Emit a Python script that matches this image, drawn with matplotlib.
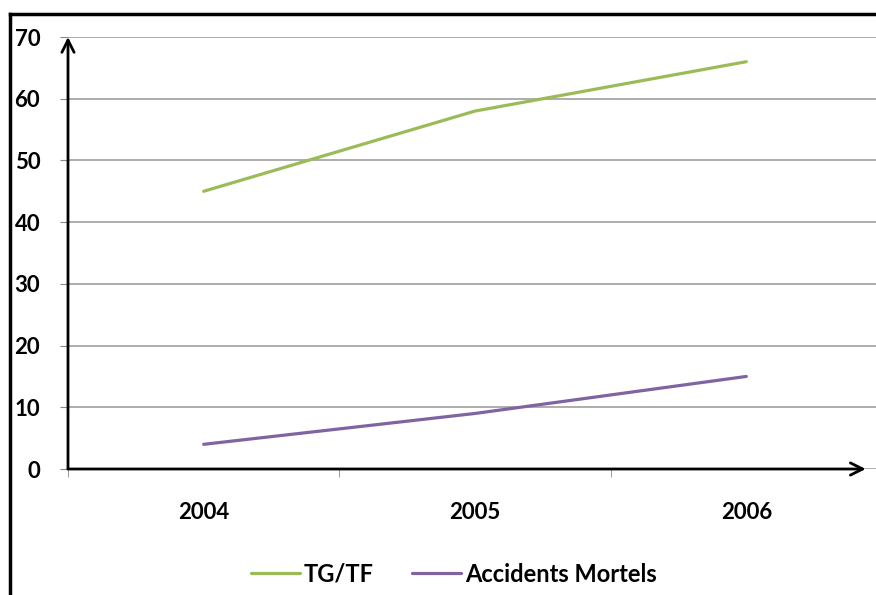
import matplotlib.pyplot as plt
from matplotlib.lines import Line2D

# data
years = ["2004", "2005", "2006"]
tg_tf = [45, 58, 66]
accidents = [4, 9, 15]

plt.rcParams['font.family'] = ['Lato', 'DejaVu Sans']
plt.rcParams['font.weight'] = 'bold'

fig = plt.figure(figsize=(8.76, 5.95), dpi=100)
ax = fig.add_axes([68 / 876, 1 - 469 / 595, 814 / 876, (469 - 37) / 595])

x = list(range(len(years)))
ax.plot(x, tg_tf, color='#9BBB59', lw=2.3, label='TG/TF', solid_capstyle='round')
ax.plot(x, accidents, color='#8064A2', lw=2.3, label='Accidents Mortels', solid_capstyle='round')

ax.set_xlim(-0.5, 2.5)
ax.set_ylim(0, 70)
ax.set_yticks(range(0, 71, 10))
ax.set_xticks(x)
ax.set_xticklabels(years)
ax.set_xticks([-0.5, 0.5, 1.5], minor=True)
ax.tick_params(axis='x', which='major', length=0, pad=24, labelsize=16)
ax.tick_params(axis='x', which='minor', length=6, color='#888888', direction='out')
ax.tick_params(axis='y', length=6, color='#888888', pad=14, labelsize=16)
for lbl in ax.get_xticklabels() + ax.get_yticklabels():
    lbl.set_fontweight('bold')

ax.grid(axis='y', color='#A0A0A0', lw=1.2)
ax.set_axisbelow(True)
for s in ax.spines.values():
    s.set_visible(False)

# axes drawn as arrows
ax.annotate('', xy=(0, 1.0), xytext=(0, 0), xycoords='axes fraction',
            arrowprops=dict(arrowstyle='->', lw=2, color='black', mutation_scale=22, shrinkA=0, shrinkB=0))
ax.annotate('', xy=(0.98, 0), xytext=(0, 0), xycoords='axes fraction',
            arrowprops=dict(arrowstyle='->', lw=2, color='black', mutation_scale=22, shrinkA=0, shrinkB=0))

# outer frame (left and top only visible)
fy = 1 - 14 / 595
fx = 10 / 876
fig.add_artist(Line2D([fx, fx], [0, fy], color='black', lw=2.5, transform=fig.transFigure))
fig.add_artist(Line2D([fx, 1], [fy, fy], color='black', lw=2.5, transform=fig.transFigure))

fig.legend(loc='center', bbox_to_anchor=(0.518, 0.035), ncol=2, frameon=False,
           handlelength=2.1, handletextpad=0.15, columnspacing=1.6,
           prop={'weight': 'bold', 'size': 17})

fig.savefig('out.png', dpi=100)
